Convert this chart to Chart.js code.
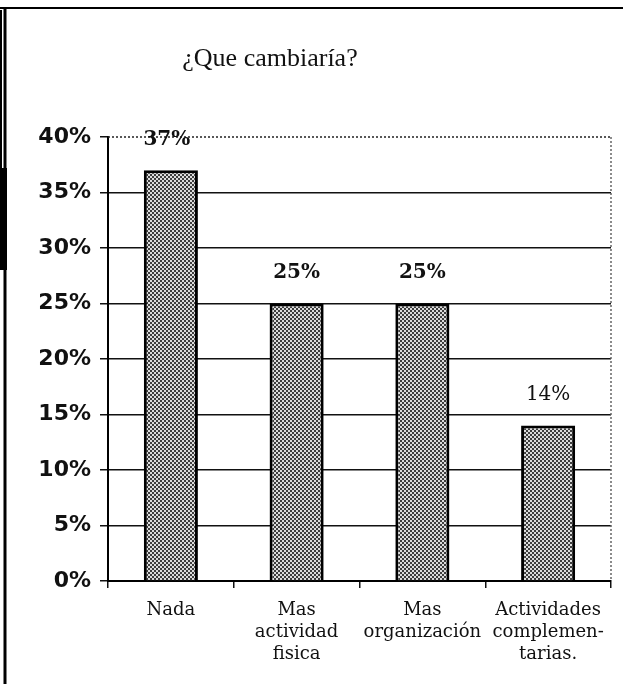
<!DOCTYPE html>
<html>
<head>
<meta charset="utf-8">
<script src="https://cdn.jsdelivr.net/npm/chart.js@4/dist/chart.umd.min.js"></script>
<style>
  html, body { margin: 0; padding: 0; background: #fff; }
  #wrap { width: 623px; height: 684px; position: relative; }
</style>
</head>
<body>
<div id="wrap"><canvas id="c"></canvas></div>
<script>
// Encuesta: ¿Que cambiaría?
const chartTitle = '¿Que cambiaría?';
const categories = [
  ['Nada'],
  ['Mas', 'actividad', 'fisica'],
  ['Mas', 'organización'],
  ['Actividades', 'complemen-', 'tarias.']
];
const values = [37, 25, 25, 14];
const yTicks = { min: 0, max: 40, step: 5 };

// Stippled grey fill for the bars (small checker of dark and light dots)
function makeStipple() {
  const n = 4;
  const pc = document.createElement('canvas');
  pc.width = n; pc.height = n;
  const g = pc.getContext('2d');
  for (let y = 0; y < n; y++) {
    for (let x = 0; x < n; x++) {
      const dark = ((x >> 1) + (y >> 1)) % 2 === 0;
      g.fillStyle = dark ? '#3e3e3e' : '#dcdcdc';
      g.fillRect(x, y, 1, 1);
    }
  }
  return g.createPattern(pc, 'repeat');
}

// Page frame, title, dotted top / right edges of the plot
const framePlugin = {
  id: 'frame',
  beforeDatasetsDraw(chart) {
    const { ctx, chartArea, scales } = chart;
    const yTop = scales.y.getPixelForValue(yTicks.max);
    ctx.save();
    ctx.strokeStyle = '#222';
    ctx.lineWidth = 1.5;
    ctx.setLineDash([2, 2]);
    ctx.beginPath();
    ctx.moveTo(chartArea.left, yTop);
    ctx.lineTo(chartArea.right, yTop);
    ctx.stroke();
    ctx.strokeStyle = '#666';
    ctx.beginPath();
    ctx.moveTo(chartArea.right, yTop);
    ctx.lineTo(chartArea.right, chartArea.bottom);
    ctx.stroke();
    ctx.restore();
  },
  afterDraw(chart) {
    const { ctx, width, height } = chart;
    ctx.save();
    ctx.strokeStyle = '#000';
    ctx.lineWidth = 2;
    ctx.beginPath();
    ctx.moveTo(0, 8);
    ctx.lineTo(width, 8);
    ctx.stroke();
    ctx.lineWidth = 3;
    ctx.beginPath();
    ctx.moveTo(5, 8);
    ctx.lineTo(5, height);
    ctx.stroke();
    ctx.fillStyle = '#000';
    ctx.fillRect(0, 168, 7, 102);
    ctx.fillRect(0, 10, 2, 158);
    // title
    ctx.fillStyle = '#111';
    ctx.font = '26px "Liberation Serif", serif';
    ctx.textAlign = 'center';
    ctx.textBaseline = 'alphabetic';
    ctx.fillText(chartTitle, 270, 66);
    ctx.restore();
  }
};

// Value labels above the bars
const valueLabels = {
  id: 'valueLabels',
  afterDatasetsDraw(chart) {
    const { ctx } = chart;
    const meta = chart.getDatasetMeta(0);
    ctx.save();
    ctx.fillStyle = '#111';
    ctx.textAlign = 'center';
    ctx.textBaseline = 'middle';
    meta.data.forEach((bar, i) => {
      const v = values[i];
      ctx.font = (v >= 20 ? 'bold ' : '') + '20px "DejaVu Serif", serif';
      ctx.fillText(v + '%', bar.x - (i === 0 ? 4 : 0), bar.y - 31);
    });
    ctx.restore();
  }
};

new Chart(document.getElementById('c'), {
  type: 'bar',
  data: {
    labels: categories,
    datasets: [{
      data: values,
      backgroundColor: makeStipple(),
      borderColor: '#000',
      borderWidth: 3,
      barPercentage: 0.43,
      categoryPercentage: 1.0
    }]
  },
  options: {
    responsive: true,
    maintainAspectRatio: false,
    animation: false,
    layout: { padding: { top: 137, right: 12, left: 0, bottom: 0 } },
    plugins: {
      legend: { display: false },
      title: { display: false },
      tooltip: { enabled: false }
    },
    scales: {
      y: {
        min: yTicks.min,
        max: yTicks.max,
        afterFit(s) { s.width = 108; },
        ticks: {
          stepSize: yTicks.step,
          padding: 9,
          color: '#111',
          font: { family: '"DejaVu Sans", sans-serif', size: 22, weight: 'bold' },
          callback: v => v + '%'
        },
        grid: {
          color: c => (c.tick && (c.tick.value === yTicks.max || c.tick.value === yTicks.min)) ? 'rgba(0,0,0,0)' : '#111',
          lineWidth: 1.5,
          tickLength: 8,
          tickColor: '#111',
          drawTicks: true
        },
        border: { color: '#000', width: 2 }
      },
      x: {
        afterFit(s) { s.height = 103; },
        ticks: {
          padding: 12,
          color: '#111',
          maxRotation: 0,
          font: { family: '"DejaVu Serif", serif', size: 18, lineHeight: 1.2 }
        },
        grid: {
          offset: true,
          drawOnChartArea: false,
          drawTicks: true,
          tickLength: 7,
          tickColor: '#111',
          lineWidth: 1.5
        },
        border: { color: '#000', width: 2 }
      }
    }
  },
  plugins: [framePlugin, valueLabels]
});
</script>
</body>
</html>
